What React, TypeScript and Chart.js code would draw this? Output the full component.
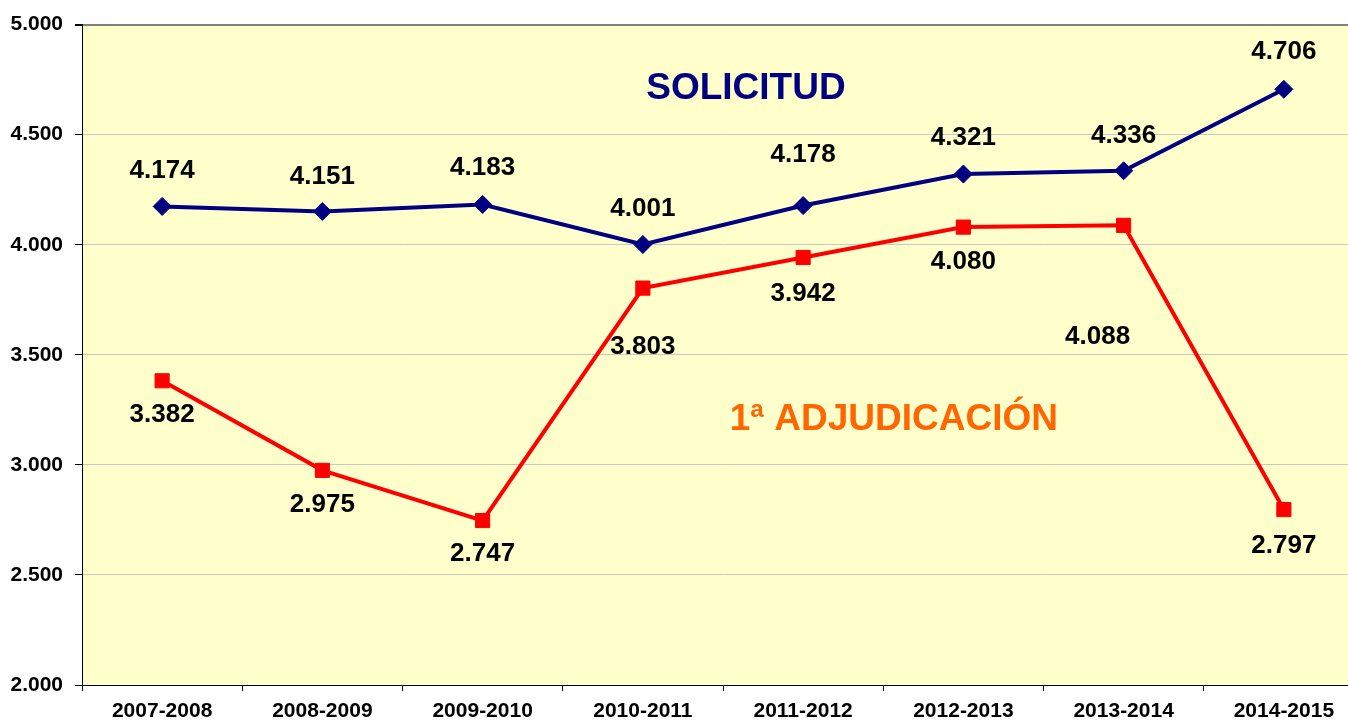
import React, { useEffect, useRef } from 'react';
import { Chart, registerables } from 'chart.js';

Chart.register(...registerables);

const categories = ['2007-2008', '2008-2009', '2009-2010', '2010-2011', '2011-2012', '2012-2013', '2013-2014', '2014-2015'];
const solicitud = [4174, 4151, 4183, 4001, 4178, 4321, 4336, 4706];
const adjudicacion = [3382, 2975, 2747, 3803, 3942, 4080, 4088, 2797];
const yMin = 2000;
const yMax = 5000;
const yStep = 500;

// label offsets in px relative to each point [dx, dy]
const solicitudLabelOffsets = [[0, -36], [0, -35], [0, -37], [0, -36], [0, -51], [0, -36], [0, -35], [0, -37]];
const adjudicacionLabelOffsets = [[0, 34], [0, 34], [0, 33], [0, 59], [0, 36], [0, 35], [-26, 111], [0, 36]];

const seriesTitles = ['SOLICITUD', '1ª ADJUDICACIÓN'];
// anchor of the series titles in data space: [category index (fractional), value]
const titleAnchors = [[3.643, 4710], [4.566, 3204]];

const FONT = '"Liberation Sans", Arial, Helvetica, sans-serif';
const fmt = (v: number) => (v / 1000).toFixed(3);

const bgPlugin = {
  id: 'plotBg',
  beforeDraw(chart: any) {
    const { ctx, chartArea } = chart;
    ctx.save();
    ctx.fillStyle = '#FFFFCC';
    ctx.fillRect(chartArea.left, chartArea.top, chartArea.right - chartArea.left, chartArea.bottom - chartArea.top);
    ctx.restore();
  },
};

const labelPlugin = {
  id: 'valueLabels',
  afterDatasetsDraw(chart: any) {
    const { ctx } = chart;
    const xs = chart.scales.x;
    const ys = chart.scales.y;
    const offsets = [solicitudLabelOffsets, adjudicacionLabelOffsets];
    ctx.save();
    ctx.font = `bold 26px ${FONT}`;
    ctx.fillStyle = '#000000';
    ctx.textAlign = 'center';
    ctx.textBaseline = 'middle';
    chart.data.datasets.forEach((ds: any, di: number) => {
      const meta = chart.getDatasetMeta(di);
      meta.data.forEach((el: any, i: number) => {
        const [dx, dy] = offsets[di][i];
        ctx.fillText(fmt(ds.data[i]), el.x + dx, el.y + dy);
      });
    });
    const colors = ['#000080', '#FF6600'];
    ctx.font = `bold 37px ${FONT}`;
    titleAnchors.forEach((a, i) => {
      ctx.fillStyle = colors[i];
      ctx.fillText(seriesTitles[i], xs.getPixelForValue(a[0]), ys.getPixelForValue(a[1]));
    });
    ctx.restore();
  },
};

export default function App() {
  const ref = useRef<HTMLCanvasElement>(null);
  useEffect(() => {
    if (!ref.current) return;
    Chart.defaults.font.family = FONT;
    const chart = new Chart(ref.current, {
      type: 'line',
      data: {
        labels: categories,
        datasets: [
          {
            label: seriesTitles[0],
            data: solicitud,
            borderColor: '#000080',
            backgroundColor: '#000080',
            borderWidth: 4,
            pointStyle: 'rectRot',
            pointRadius: 9,
            pointBorderWidth: 1,
            pointBackgroundColor: '#000080',
            pointBorderColor: '#000080',
            tension: 0,
          },
          {
            label: seriesTitles[1],
            data: adjudicacion,
            borderColor: '#FF0000',
            backgroundColor: '#FF0000',
            borderWidth: 4,
            pointStyle: 'rect',
            pointRadius: 10,
            pointBorderWidth: 1,
            pointBackgroundColor: '#FF0000',
            pointBorderColor: '#FF0000',
            tension: 0,
          },
        ],
      },
      options: {
        animation: false,
        responsive: false,
        devicePixelRatio: 1,
        layout: { padding: { top: 21, left: 0, right: 0, bottom: 0 } },
        plugins: {
          legend: { display: false },
          tooltip: { enabled: false },
        },
        scales: {
          x: {
            type: 'category',
            offset: true,
            grid: {
              offset: true,
              drawOnChartArea: false,
              drawTicks: true,
              tickLength: 6,
              tickColor: '#000000',
              color: '#000000',
            },
            border: { color: '#000000', width: 1 },
            ticks: {
              color: '#000000',
              font: { family: FONT, size: 21, weight: 'bold' },
              padding: 8,
              maxRotation: 0,
              autoSkip: false,
            },
            afterFit: (scale: any) => {
              scale.height = 35;
            },
          },
          y: {
            min: yMin,
            max: yMax,
            grid: {
              color: (c: any) => (c.tick && c.tick.value === yMax ? '#808080' : '#C8C8C8'),
              lineWidth: (c: any) => (c.tick && c.tick.value === yMax ? 2 : 1),
              tickLength: 7,
              tickColor: '#000000',
            },
            border: { color: '#000000', width: 1 },
            ticks: {
              stepSize: yStep,
              color: '#000000',
              font: { family: FONT, size: 21, weight: 'bold' },
              padding: 12,
              callback: (v: any) => fmt(Number(v)),
            },
            afterFit: (scale: any) => {
              scale.width = 82;
            },
          },
        },
      },
      plugins: [bgPlugin, labelPlugin],
    });
    return () => chart.destroy();
  }, []);

  return (
    <div style={{ position: 'fixed', left: 0, top: 0, width: 1348, height: 720, overflow: 'hidden', background: '#FFFFFF' }}>
      <canvas ref={ref} width={1375} height={720} style={{ display: 'block', width: 1375, height: 720 }} />
    </div>
  );
}
